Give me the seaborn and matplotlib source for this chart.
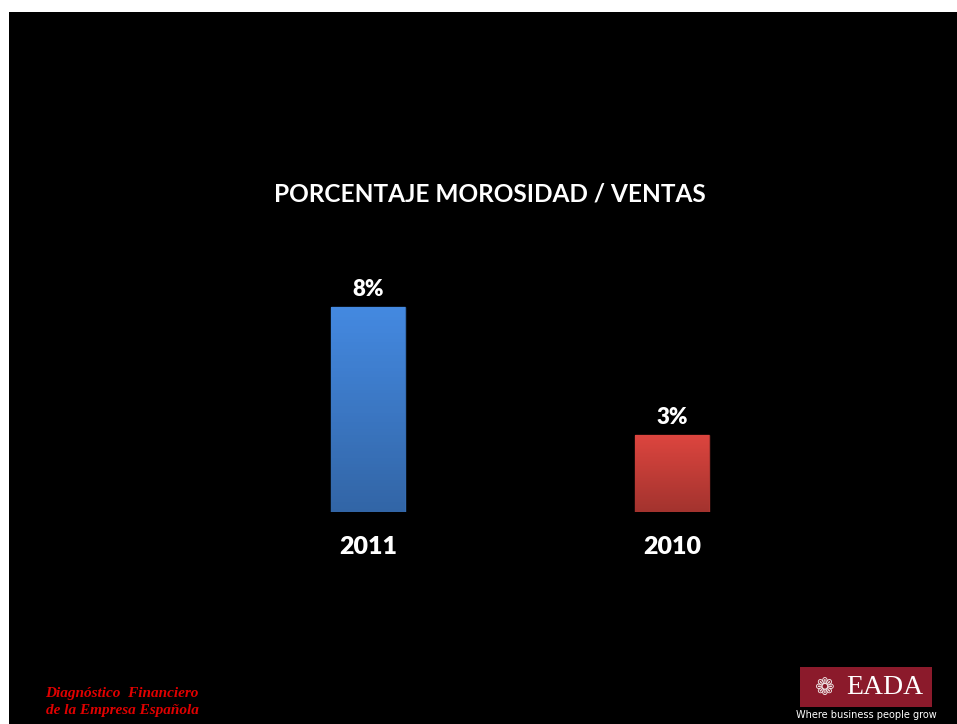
import numpy as np
import pandas as pd
import seaborn as sns
import matplotlib.pyplot as plt
from matplotlib.patches import Rectangle

years = ["2011", "2010"]
values = [8, 3]
bar_labels = ["8%", "3%"]
bar_colors = ["#3f7fd0", "#cc403a"]
title = "PORCENTAJE MOROSIDAD / VENTAS"
footer = "Diagnóstico  Financiero\nde la Empresa Española"

sns.set_style("dark")
plt.rcParams['font.family'] = ['Lato', 'DejaVu Sans']

W, H = 957, 724
fig = plt.figure(figsize=(W / 100, H / 100), dpi=100, facecolor="white")

# black slide area, white strip top and left
fig.patches.append(Rectangle((9 / W, 0), 1 - 9 / W, 1 - 12 / H, transform=fig.transFigure,
                             facecolor="black", edgecolor="none", zorder=-5))

# axes placed so that bars land where the reference has them
ax = fig.add_axes([216 / W, 1 - 512 / H, 608 / W, 256 / H])
ax.set_zorder(3)
df = pd.DataFrame({"year": years, "value": values})
sns.barplot(data=df, x="year", y="value", hue="year", palette=bar_colors, legend=False,
            width=0.243, ax=ax, saturation=1)
ax.set_facecolor("none")
ax.patch.set_alpha(0)
ax.grid(False)
for s in ax.spines.values():
    s.set_visible(False)
ax.set_yticks([])
ax.set_xlabel("")
ax.set_ylabel("")
ax.tick_params(axis="x", length=0, pad=17, colors="white", labelsize=18)
for t in ax.get_xticklabels():
    t.set_fontweight("heavy")

# gradient shading on bars
for patch, c in zip(ax.patches, bar_colors):
    x0, y0 = patch.get_x(), patch.get_y()
    w, h = patch.get_width(), patch.get_height()
    base = np.array(plt.matplotlib.colors.to_rgb(c))
    grad = np.linspace(1.08, 0.8, 64)[:, None, None] * base[None, None, :]
    grad = np.clip(grad, 0, 1)
    im = ax.imshow(grad, extent=[x0, x0 + w, y0, y0 + h], aspect="auto", origin="upper", zorder=2)
    im.set_clip_path(patch)
    patch.set_edgecolor(tuple(np.clip(base * 0.85, 0, 1)))
    patch.set_linewidth(1.0)
ax.set_xlim(-0.5, 1.5)
ax.set_ylim(0, 10)

for i, (v, lab) in enumerate(zip(values, bar_labels)):
    ax.annotate(lab, (i, v), xytext=(0, 5), textcoords="offset points", ha="center", va="bottom",
                color="white", fontsize=16, fontweight="heavy")

fig.text(490 / W, 1 - 194 / H, title, ha="center", va="center", color="white",
         fontsize=17.6, fontweight="bold")

fig.text(122 / W, 1 - 702 / H, footer, ha="center", va="center", ma="center", color="#e00000",
         fontsize=11, fontweight="bold", fontstyle="italic", family="Liberation Serif",
         linespacing=1.35)

# logo block
fig.patches.append(Rectangle((800 / W, 1 - 707 / H), 132 / W, 40 / H, transform=fig.transFigure,
                             facecolor="#8b1a2b", edgecolor="none", zorder=1))
fig.text(824 / W, 1 - 688 / H, "\u2741", ha="center", va="center", color="#f0e6e6",
         fontsize=17, family="DejaVu Sans")
fig.text(885 / W, 1 - 688 / H, "EADA", ha="center", va="center", color="white",
         fontsize=20, family="Liberation Serif")
fig.text(866 / W, 1 - 715 / H, "Where business people grow", ha="center", va="center",
         color="white", fontsize=7, family="Liberation Sans Narrow")

fig.savefig("out.png", dpi=100, facecolor=fig.get_facecolor())
